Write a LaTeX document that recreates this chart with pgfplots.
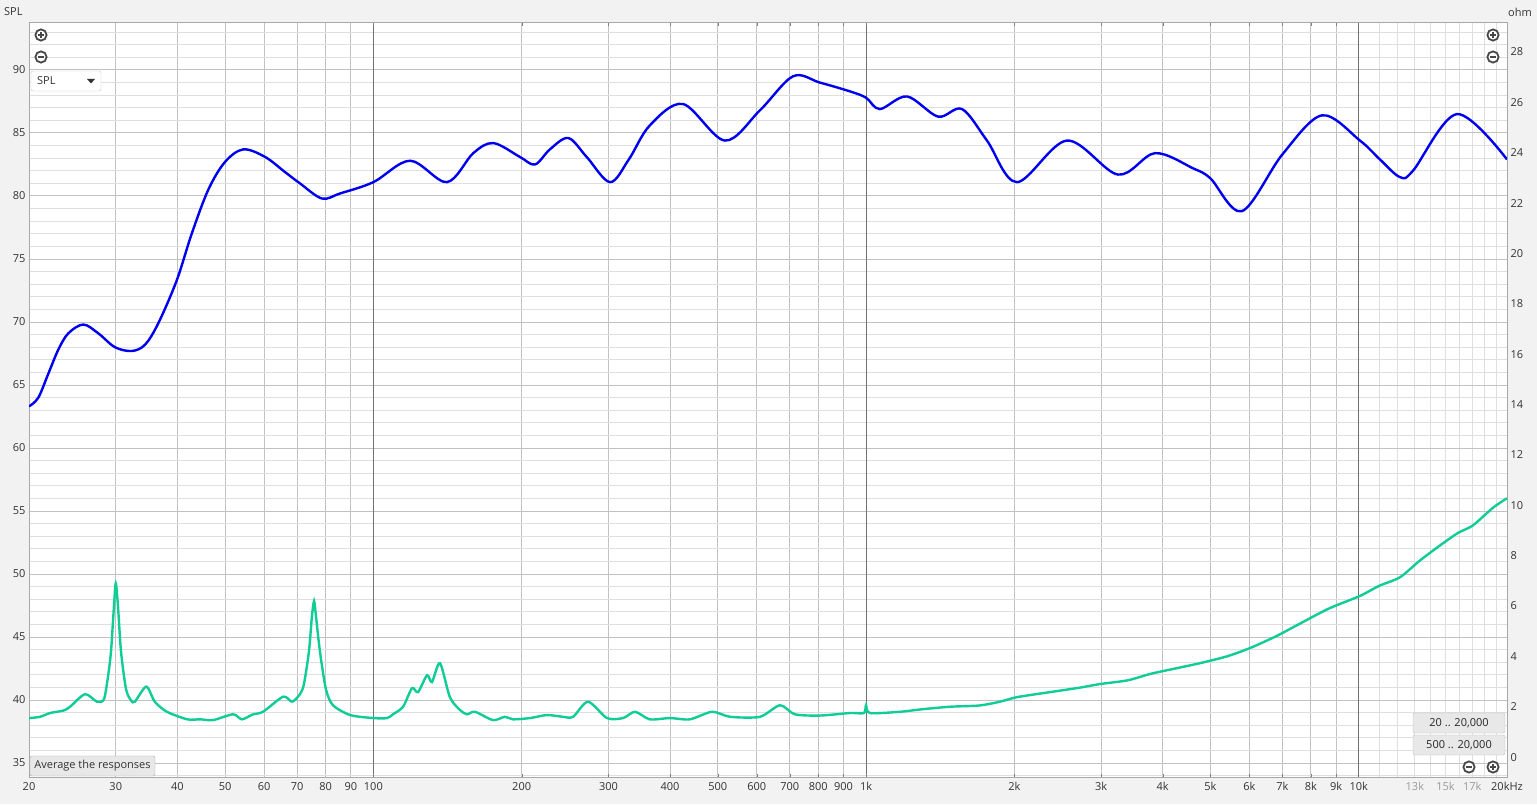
\documentclass[border=0pt]{standalone}
\usepackage{fontspec}
\setmainfont{Open Sans}
\usepackage{pgfplots}
\pgfplotsset{compat=1.18}
\definecolor{bgc}{HTML}{F2F2F2}
\definecolor{gridmaj}{HTML}{C2C2C2}
\definecolor{gridmin}{HTML}{DFDFDF}
\definecolor{darkgrid}{HTML}{707070}
\definecolor{framec}{HTML}{A8A8A8}
\definecolor{labc}{HTML}{333333}
\definecolor{lightlab}{HTML}{9A9A9A}
\definecolor{splblue}{HTML}{0000F0}
\definecolor{impgreen}{HTML}{10CC96}
\newcommand{\zin}[2]{\draw[line width=1.8pt, draw=black!72, fill=white] (#1,#2) circle (5.6);
  \draw[line width=2pt, draw=black!72] (#1-3.3,#2) -- (#1+3.3,#2) (#1,#2-3.3) -- (#1,#2+3.3);}
\newcommand{\zout}[2]{\draw[line width=1.8pt, draw=black!72, fill=white] (#1,#2) circle (5.6);
  \draw[line width=2pt, draw=black!72] (#1-3.3,#2) -- (#1+3.3,#2);}
\begin{document}
\begin{tikzpicture}[x=1pt,y=1pt,font=\fontsize{11}{13}\selectfont]
\fill[bgc] (0,0) rectangle (1537,804);
\path[use as bounding box] (0,0) rectangle (1537,804);
% grid axis
\begin{axis}[at={(29pt,27pt)}, anchor=south west, scale only axis,
  width=1478pt, height=754pt, xmode=log, xmin=20, xmax=20000,
  ymin=33.89, ymax=93.73,
  major tick length=0pt, minor tick length=0pt,
  axis background/.style={fill=white},
  axis line style={draw=none},
  xtick={20,30,40,50,60,70,80,90,200,300,400,500,600,700,800,900,2000,3000,4000,5000,6000,7000,8000,9000},
  minor xtick={11000,12000,13000,14000,15000,16000,17000,18000,19000},
  xticklabels={}, yticklabels={},
  ytick={35,40,45,50,55,60,65,70,75,80,85,90},
  minor ytick={34,36,37,38,39,41,42,43,44,46,47,48,49,51,52,53,54,56,57,58,59,61,62,63,64,66,67,68,69,71,72,73,74,76,77,78,79,81,82,83,84,86,87,88,89,91,92,93},
  xmajorgrids, ymajorgrids, xminorgrids, yminorgrids,
  major grid style={draw=gridmaj, line width=1pt},
  minor grid style={draw=gridmin, line width=1pt}]
\addplot[draw=none] coordinates {(100,50) (1000,60)};
\end{axis}
% dark decade lines
\begin{axis}[at={(29pt,27pt)}, anchor=south west, scale only axis,
  width=1478pt, height=754pt, xmode=log, xmin=20, xmax=20000,
  ymin=33.89, ymax=93.73,
  major tick length=0pt, axis line style={draw=none},
  xtick={100,1000,10000}, xticklabels={}, ytick=\empty,
  xmajorgrids, major grid style={draw=darkgrid, line width=1pt}]
\addplot[draw=none] coordinates {(100,50) (1000,60)};
\end{axis}
% SPL axis
\begin{axis}[at={(29pt,27pt)}, anchor=south west, scale only axis,
  width=1478pt, height=754pt, xmode=log, xmin=20, xmax=20000,
  ymin=33.89, ymax=93.73,
  major tick length=0pt,
  tick label style={font=\fontsize{11}{13}\selectfont, text=labc},
  /pgf/number format/assume math mode=true,
  axis line style={draw=framec, line width=1pt},
  xtick={20,30,40,50,60,70,80,90,100,200,300,400,500,600,700,800,900,1000,2000,3000,4000,5000,6000,7000,8000,9000,10000,13000,15000,17000,20000},
  xticklabels={20,30,40,50,60,70,80,90,100,200,300,400,500,600,700,800,900,1k,2k,3k,4k,5k,6k,7k,8k,9k,10k,\textcolor{lightlab}{13k},\textcolor{lightlab}{15k},\textcolor{lightlab}{17k},20kHz},
  xticklabel style={yshift=-2pt},
  ytick={35,40,45,50,55,60,65,70,75,80,85,90}]
\addplot[splblue, line width=2.4pt, smooth, tension=0.55] coordinates {
(20,63.3) (20.89,64.0) (21.89,65.9) (22.93,67.8) (24.03,69.1) (25.78,69.8) (27.65,69.1)
(29.89,68.0) (32.33,67.7) (34.40,68.2) (36.60,69.9) (39.89,73.3) (42.78,77.0)
(46.23,80.5) (49.98,82.7) (54.44,83.7) (60.28,83.1) (66.17,81.9) (70.97,81.0)
(78.65,79.8) (85.57,80.2) (100,81.1) (118.7,82.8) (141,81.1)
(159.5,83.4) (175.2,84.2) (198.4,83.1) (212.8,82.5) (228.2,83.7) (248.7,84.6)
(271.0,83.1) (302.2,81.1) (330,82.9) (364,85.6)
(425,87.3) (517,84.4) (609,86.8) (711,89.5) (806,89.0) (928,88.3) (1000,87.8)
(1067,86.9) (1211,87.9) (1400,86.3) (1566,86.9) (1760,84.4) (2024,81.1) (2558,84.4)
(3246,81.7) (3859,83.4) (4609,82.2) (5000,81.4) (5794,78.8) (7000,83.3) (8420,86.4)
(10058,84.4) (11044,82.9) (12125,81.5) (12884,82.0) (15828,86.5) (20000,82.9)};
\end{axis}
% ohm axis
\begin{axis}[at={(29pt,27pt)}, anchor=south west, scale only axis,
  width=1478pt, height=754pt, xmode=log, xmin=20, xmax=20000,
  ymin=-0.79, ymax=29.15,
  major tick length=0pt,
  tick label style={font=\fontsize{11}{13}\selectfont, text=labc},
  /pgf/number format/assume math mode=true,
  axis x line=none, axis y line*=right, axis line style={draw=none},
  ytick={0,2,4,6,8,10,12,14,16,18,20,22,24,26,28}, xtick=\empty]
\addplot[impgreen, line width=2.4pt, smooth, tension=0.45] coordinates {
(20,1.55) (21.06,1.6) (22.06,1.75) (23.5,1.85) (24.23,2.0) (25.98,2.5) (27.48,2.2)
(28.39,2.3) (28.93,3.2) (29.34,4.2) (29.75,6.0) (30,6.9) (30.31,6.0) (30.74,4.2)
(31.47,2.7) (32.22,2.25) (32.8,2.2) (34.6,2.8) (36.0,2.2) (38.1,1.8) (41.9,1.5)
(44.5,1.5) (47.3,1.47) (51.9,1.7) (54.1,1.5) (57,1.7) (59.7,1.8) (65.6,2.4) (68.4,2.2)
(70.97,2.5) (72.3,2.9) (74.0,4.2) (75.06,5.6) (75.8,6.2) (76.48,5.6) (77.9,4.2)
(80.1,2.7) (82.8,2.06) (89.7,1.67) (100,1.55) (106.6,1.55) (109.6,1.7) (114.9,2.0)
(119.8,2.74) (123.2,2.58) (128.5,3.25) (131.5,2.98) (136.5,3.73) (143.0,2.38)
(149.9,1.87) (154.9,1.7) (160.8,1.8) (174.9,1.47) (185.0,1.6) (192.0,1.5) (207.9,1.55)
(225.1,1.67) (242.6,1.6) (254.3,1.6) (272.7,2.2) (298.0,1.55) (321.2,1.55) (339.7,1.8)
(364,1.5) (400,1.55) (439,1.5) (487,1.8) (530,1.6) (609,1.6) (669,2.06) (717,1.7)
(806,1.65) (928,1.75) (990,1.75) (1000,2.06) (1018,1.75) (1172,1.8) (1300,1.9)
(1480,2.0) (1700,2.05) (1870,2.2) (2024,2.38) (2362,2.58) (2700,2.75) (2984,2.9)
(3400,3.05) (3770,3.3) (4200,3.5) (4763,3.73) (5400,4.0) (6016,4.33) (6800,4.8)
(7599,5.3) (8700,5.9) (10058,6.4) (11000,6.8) (12125,7.14) (13300,7.8) (14612,8.4)
(15900,8.9) (17052,9.2) (18729,9.9) (20000,10.28)};
\end{axis}
% UI elements
\draw[rounded corners=2pt, draw=black!22, fill=white] (31,713) rectangle (101,733);
\node[anchor=west, text=labc, inner sep=0pt] at (37,723) {SPL};
\fill[black!80] (87,725) -- (95,725) -- (91,720.5) -- cycle;
\draw[rounded corners=2pt, draw=black!32, fill=black!9] (30,28) rectangle (155,48);
\node[text=labc, inner sep=0pt] at (92.5,38) {Average the responses};
\draw[rounded corners=2pt, draw=black!25, fill=black!9] (1413,71) rectangle (1505,91);
\node[text=black!85, inner sep=0pt] at (1459,81) {20 .. 20,000};
\draw[rounded corners=2pt, draw=black!25, fill=black!9] (1413,49) rectangle (1505,69);
\node[text=black!85, inner sep=0pt] at (1459,59) {500 .. 20,000};
\node[anchor=west, text=labc, inner sep=0pt] at (4,792) {SPL};
\node[anchor=west, text=labc, inner sep=0pt] at (1508,792) {ohm};
\zin{41}{769}
\zout{41}{747}
\zin{1493}{769}
\zout{1493}{747}
\zout{1469}{37}
\zin{1493}{37}
\end{tikzpicture}
\end{document}
